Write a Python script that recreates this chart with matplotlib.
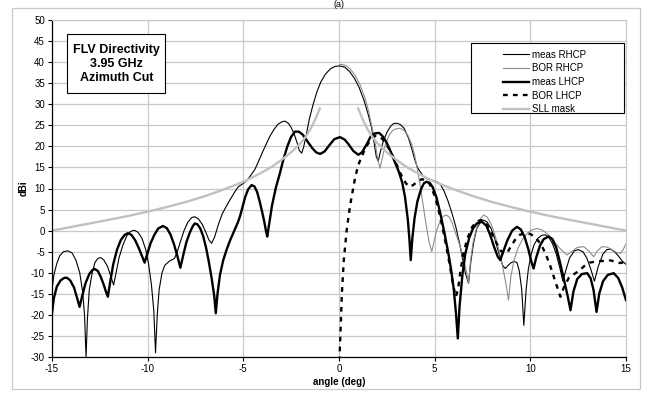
import matplotlib
matplotlib.use("Agg")
import matplotlib.pyplot as plt
from matplotlib.patches import Rectangle

plt.rcParams['font.family'] = ['Liberation Sans', 'DejaVu Sans']
plt.rcParams['axes.unicode_minus'] = False

# meas RHCP (thin black)
meas_rhcp_x = [-15.0, -14.9, -14.75, -14.6, -14.4, -14.17, -13.95, -13.75, -13.55, -13.4, -13.3,
               -13.22, -13.15, -13.05, -12.9, -12.75, -12.6, -12.46, -12.3, -12.1, -11.95, -11.78,
               -11.65, -11.5, -11.3, -11.1, -10.9, -10.7, -10.5, -10.3, -10.1, -9.95, -9.8,
               -9.68, -9.59, -9.5, -9.4, -9.25, -9.1, -8.85, -8.6, -8.45, -8.3, -8.1, -7.9,
               -7.7, -7.54, -7.35, -7.15, -6.95, -6.8, -6.66, -6.5, -6.3, -6.1, -5.9, -5.7,
               -5.5, -5.27, -5.0, -4.8, -4.6, -4.4, -4.2, -4.0, -3.8, -3.6, -3.4, -3.2,
               -3.0, -2.83, -2.65, -2.5, -2.35, -2.2, -2.07, -1.95, -1.85, -1.7, -1.55, -1.35,
               -1.15, -0.95, -0.7, -0.45, -0.2, 0.05, 0.3, 0.55, 0.8, 1.05, 1.3, 1.5,
               1.7, 1.85, 1.95, 2.05, 2.15, 2.3, 2.5, 2.7, 2.85, 3.02, 3.2, 3.4,
               3.63, 3.8, 3.95, 4.1, 4.24, 4.4, 4.6, 4.8, 5.0, 5.15, 5.3, 5.5,
               5.7, 5.9, 6.1, 6.3, 6.45, 6.6, 6.77, 6.9, 7.05, 7.2, 7.4, 7.56,
               7.75, 7.95, 8.15, 8.3, 8.43, 8.56, 8.69, 8.85, 9.0, 9.15, 9.3, 9.42,
               9.55, 9.66, 9.78, 9.9, 10.05, 10.2, 10.4, 10.6, 10.79, 10.95, 11.15, 11.35,
               11.55, 11.7, 11.85, 12.05, 12.3, 12.5, 12.75, 12.95, 13.15, 13.35, 13.55, 13.8,
               14.0, 14.2, 14.4, 14.6, 14.8, 15.0]
meas_rhcp_y = [-14, -10.5, -7.8, -6.0, -5.0, -4.8, -5.3, -7, -10, -14.5, -20,
               -30, -21, -14, -10, -7.5, -6.6, -6.4, -6.9, -8.5, -10.5, -12.9,
               -10, -6.5, -3.5, -1.3, -0.2, 0.1, -0.4, -1.8, -4.5, -8, -13,
               -19, -29, -20, -14, -10, -8.2, -7.2, -6.6, -5, -2.8, 0, 2,
               3.1, 3.3, 2.8, 1.5, -0.5, -2.2, -3, -1.5, 1.5, 4, 5.7, 7.3,
               8.8, 10.4, 11.2, 12, 13.2, 14.5, 16.5, 18.6, 20.6, 22.5, 24, 25.2,
               25.8, 26, 25.5, 24.5, 23, 21, 19, 18.4, 19.8, 23, 26.5, 30,
               33, 35.3, 37.2, 38.4, 39, 39.1, 38.8, 37.8, 36.2, 34, 31, 28,
               24.5, 20.5, 17.5, 16.5, 18.5, 21, 23.3, 24.8, 25.4, 25.5, 25.2, 24.3,
               22, 19.5, 17, 15, 14, 13, 12.3, 12, 11.8, 11.5, 11, 9.3,
               7, 4.2, 1, -3, -6.5, -10, -12.5, -7, -2.5, 0.5, 2.1, 2.5,
               2, 0.5, -2, -4.5, -6.5, -8.3, -9, -8.2, -7.6, -7.3, -7.6, -9.5,
               -14, -22.5, -14, -9, -5.5, -3.3, -1.8, -1.1, -1, -1.5, -3, -5.5,
               -9, -12, -9.5, -6.5, -4.8, -4.5, -5, -6.5, -9, -12, -8.5, -5.5,
               -4.5, -4.4, -5, -6, -7.2, -8]

# BOR RHCP (thin grey)
bor_rhcp_x = [0.0, 0.1, 0.35, 0.6, 0.85, 1.1, 1.35, 1.55, 1.75, 1.9, 2.02, 2.15, 2.25, 2.4,
              2.6, 2.8, 3.0, 3.19, 3.4, 3.6, 3.8, 3.95, 4.1, 4.25, 4.4, 4.55, 4.7, 4.85,
              4.97, 5.1, 5.3, 5.45, 5.6, 5.75, 5.9, 6.05, 6.2, 6.35, 6.5, 6.65, 6.77, 6.88,
              7.0, 7.15, 7.35, 7.56, 7.75, 7.95, 8.15, 8.35, 8.55, 8.72, 8.86, 8.98, 9.15,
              9.35, 9.6, 9.85, 10.1, 10.35, 10.6, 10.85, 11.1, 11.35, 11.6, 11.92, 12.15,
              12.45, 12.79, 13.05, 13.31, 13.5, 13.75, 14.0, 14.3, 14.5, 14.71, 14.85, 15.0]
bor_rhcp_y = [39.3, 39.5, 39.2, 38.3, 36.8, 34.6, 31.6, 28.3, 24, 20.5, 17, 14.8, 17, 20,
              22.5, 23.8, 24.2, 24.3, 23.8, 22.6, 20.5, 18, 14.5, 10.5, 6, 1.5, -2.5, -5,
              -2.5, 0, 2.4, 3.4, 3.7, 3.3, 2, 0, -2, -4, -6.5, -9.5, -12.5, -7,
              -3, 0, 2.6, 3.7, 3.2, 1.6, -1, -4.5, -8.5, -12.5, -16.5, -11, -7,
              -4.2, -2, -0.6, 0.2, 0.5, 0.2, -0.6, -1.8, -3.2, -4.5, -5.8, -5,
              -4, -3.8, -4.8, -6.2, -4.8, -3.8, -3.9, -4.6, -5.2, -5.4, -4.5, -3.2]

# meas LHCP (thick black)
meas_lhcp_x = [-15.0, -14.9, -14.75, -14.55, -14.35, -14.22, -14.05, -13.85, -13.7, -13.56,
               -13.42, -13.25, -13.05, -12.9, -12.77, -12.6, -12.45, -12.3, -12.18, -12.08,
               -11.97, -11.8, -11.6, -11.4, -11.2, -11.03, -10.85, -10.65, -10.45, -10.3,
               -10.16, -10.02, -9.85, -9.65, -9.45, -9.2, -9.0, -8.8, -8.62, -8.45,
               -8.29, -8.15, -7.98, -7.8, -7.65, -7.54, -7.4, -7.25, -7.1, -6.95,
               -6.8, -6.65, -6.52, -6.44, -6.35, -6.22, -6.05, -5.88, -5.7, -5.5,
               -5.3, -5.18, -5.05, -4.9, -4.75, -4.57, -4.42, -4.28, -4.15, -4.02,
               -3.9, -3.82, -3.75, -3.65, -3.5, -3.3, -3.09, -2.9, -2.7, -2.5,
               -2.3, -2.1, -1.9, -1.65, -1.4, -1.2, -0.99, -0.75, -0.5, -0.25,
               0.05, 0.3, 0.5, 0.75, 1.01, 1.2, 1.45, 1.65, 1.88, 2.1,
               2.3, 2.5, 2.7, 2.9, 3.1, 3.3, 3.45, 3.6, 3.68, 3.75,
               3.83, 3.95, 4.1, 4.3, 4.45, 4.59, 4.75, 4.9, 5.1, 5.3,
               5.5, 5.7, 5.85, 6.0, 6.12, 6.21, 6.3, 6.45, 6.6, 6.8,
               7.0, 7.2, 7.47, 7.7, 7.9, 8.1, 8.3, 8.43, 8.6, 8.8,
               9.05, 9.3, 9.5, 9.7, 9.9, 10.05, 10.17, 10.3, 10.5, 10.7,
               10.96, 11.15, 11.35, 11.55, 11.75, 11.95, 12.1, 12.25, 12.45, 12.7,
               12.97, 13.15, 13.3, 13.46, 13.6, 13.8, 14.05, 14.36, 14.6, 14.8, 15.0]
meas_lhcp_y = [-19.6, -16, -13.3, -11.8, -11.2, -11.2, -11.8, -13.5, -15.8, -18.1,
               -15.5, -12.5, -10.3, -9.4, -9.1, -9.6, -11, -12.8, -14.5, -15.7,
               -12.5, -8, -4.5, -2.2, -1, -0.6, -1, -2.3, -4.3, -6,
               -7.6, -5.5, -3, -1, 0.5, 1.1, 0.6, -1, -3.3, -6,
               -8.8, -6, -2.8, -0.5, 1, 1.7, 1.5, 0.5, -1.3, -4,
               -7.5, -11.5, -15.5, -19.6, -15, -10.5, -7, -4.6, -2.4, -0.3,
               1.8, 3.3, 5.5, 8, 9.8, 10.8, 10.5, 9.2, 7, 4.5,
               2, 0, -1.4, 1.5, 6, 10.2, 13.6, 17, 20, 22.3,
               23.5, 23.5, 22.8, 21.2, 19.6, 18.6, 18.2, 18.8, 20.3, 21.7,
               22.2, 21.6, 20.5, 18.9, 18, 18.6, 20.5, 22.3, 23.1, 23.2,
               22.3, 20.8, 18.8, 16.5, 14.3, 11.5, 8, 2.5, -2, -7,
               -2, 3, 7, 10, 11.3, 11.6, 11.3, 10.3, 7.8, 4,
               -0.3, -5, -9, -14, -20, -25.6, -18, -10.5, -5.5, -1.8,
               0.5, 1.7, 2.1, 1.2, -1, -3.8, -6.2, -7, -4.8, -2.3,
               0, 0.9, 0.3, -1.5, -4.5, -7.3, -9, -6.5, -3.6, -2,
               -1.4, -2, -4, -7.5, -11.5, -15.5, -18.9, -14.5, -11.5, -10.3,
               -10.1, -11.3, -14, -19.3, -15, -12, -10.5, -10.1, -11.3, -13.5, -16.5]

# BOR LHCP (thick dashed)
bor_lhcp_x = [0.02, 0.08, 0.15, 0.25, 0.4, 0.58, 0.84, 1.0, 1.19, 1.35, 1.5, 1.7, 1.9, 2.1,
              2.3, 2.5, 2.75, 3.0, 3.25, 3.5, 3.72, 3.9, 4.1, 4.33, 4.55, 4.75, 5.0, 5.2,
              5.4, 5.6, 5.8, 5.95, 6.1, 6.22, 6.35, 6.5, 6.7, 6.95, 7.2, 7.45, 7.7, 7.95,
              8.2, 8.45, 8.6, 8.78, 8.95, 9.2, 9.45, 9.74, 10.0, 10.26, 10.55, 10.8, 11.05,
              11.3, 11.57, 11.75, 12.0, 12.36, 12.6, 12.85, 13.1, 13.45, 13.8, 14.1, 14.4,
              14.7, 14.97]
bor_lhcp_y = [-31, -24, -15, -7, 0, 6, 12.5, 15.5, 17.6, 19.3, 20.5, 21.8, 22.5, 22.4,
              21.6, 20.3, 18.3, 15.8, 13.2, 11.2, 10.4, 10.9, 11.7, 12.2, 12, 11, 8.3, 5,
              1, -3.5, -8.5, -12.5, -15.7, -14, -9.5, -5.5, -2, 0.8, 2.2, 2.5, 1.6, -0.2,
              -2.7, -4.7, -5.3, -5.4, -4, -2.2, -1, -0.6, -0.8, -1.6, -3.2, -5.5, -8.5,
              -12, -15.7, -13.5, -11.3, -10.1, -9.3, -8.3, -7.6, -7.3, -7.2, -7.0, -7.3,
              -7.7, -7.4]

# SLL mask (thick light grey), two branches
sll_left_x = [-15, -13.5, -12, -11, -10, -9, -8, -7, -6, -5, -4.5, -4, -3.5, -3, -2.5, -2,
              -1.75, -1.5, -1.25, -1]
sll_left_y = [0, 1.3, 2.6, 3.5, 4.5, 5.6, 6.8, 8.2, 9.8, 11.6, 12.7, 13.9, 15.2, 16.8,
              18.6, 20.8, 22.2, 24, 26.3, 29]
sll_right_x = [1, 1.25, 1.5, 1.75, 2, 2.5, 3, 3.5, 4, 4.5, 5, 6, 7, 8, 9, 10, 11, 12, 13.5,
               15]
sll_right_y = [29, 26.3, 24, 22.2, 20.8, 18.6, 16.8, 15.2, 13.9, 12.7, 11.6, 9.8, 8.2, 6.8,
               5.6, 4.5, 3.5, 2.6, 1.3, 0]

fig = plt.figure(figsize=(6.45, 3.93), dpi=100)
ax = fig.add_axes([52 / 645, 1 - 357 / 393, (626 - 52) / 645, (357 - 20) / 393])

ax.plot(meas_rhcp_x, meas_rhcp_y, color='black', lw=0.8, label='meas RHCP')
ax.plot(bor_rhcp_x, bor_rhcp_y, color='#8c8c8c', lw=0.8, label='BOR RHCP')
ax.plot(meas_lhcp_x, meas_lhcp_y, color='black', lw=1.7, label='meas LHCP')
ax.plot(bor_lhcp_x, bor_lhcp_y, color='black', lw=1.7, ls=(0, (2.0, 2.2)), label='BOR LHCP')
ax.plot(sll_left_x, sll_left_y, color='#c0c0c0', lw=1.7, label='SLL mask')
ax.plot(sll_right_x, sll_right_y, color='#c0c0c0', lw=1.7)

ax.set_xlim(-15, 15)
ax.set_ylim(-30, 50)
ax.set_xticks(range(-15, 16, 5))
ax.set_yticks(range(-30, 51, 5))
ax.grid(True, color='#c8c8c8', lw=0.9)
ax.set_axisbelow(True)
for s in ['top', 'right']:
    ax.spines[s].set_color('#c8c8c8')
ax.spines['left'].set_linewidth(0.9)
ax.spines['bottom'].set_linewidth(0.9)
ax.tick_params(labelsize=7, length=3, width=0.8, direction='out', pad=2)
ax.set_xlabel('angle (deg)', fontsize=7, fontweight='bold', labelpad=2)
ax.set_ylabel('dBi', fontsize=7, fontweight='bold', labelpad=2)

# title box
ax.add_patch(Rectangle((-14.19, 32.7), 5.08, 14.0, fc='white', ec='black', lw=0.8, zorder=5))
ax.text(-11.64, 39.5, 'FLV Directivity\n3.95 GHz\nAzimuth Cut', fontsize=9,
        fontweight='bold', ha='center', va='center', linespacing=1.2, zorder=6)

# legend box
ax.add_patch(Rectangle((0.7294, 0.7231), 0.2671, 0.2078, transform=ax.transAxes,
                       fc='white', ec='black', lw=0.8, zorder=5))
leg = ax.legend(loc='upper left', bbox_to_anchor=(0.772, 0.935), fontsize=7,
                frameon=False, handlelength=2.7, handletextpad=0.25,
                labelspacing=0.38, borderpad=0.3)
leg.set_zorder(6)

fig.text(0.525, 1.0, '(a)', fontsize=6.5, ha='center', va='top')
fig.patches.append(Rectangle((12 / 645, 4 / 393), (640 - 12) / 645, (385 - 4) / 393,
                             transform=fig.transFigure, fill=False, ec='#c8c8c8', lw=0.9))

fig.savefig('out.png', dpi=100)
